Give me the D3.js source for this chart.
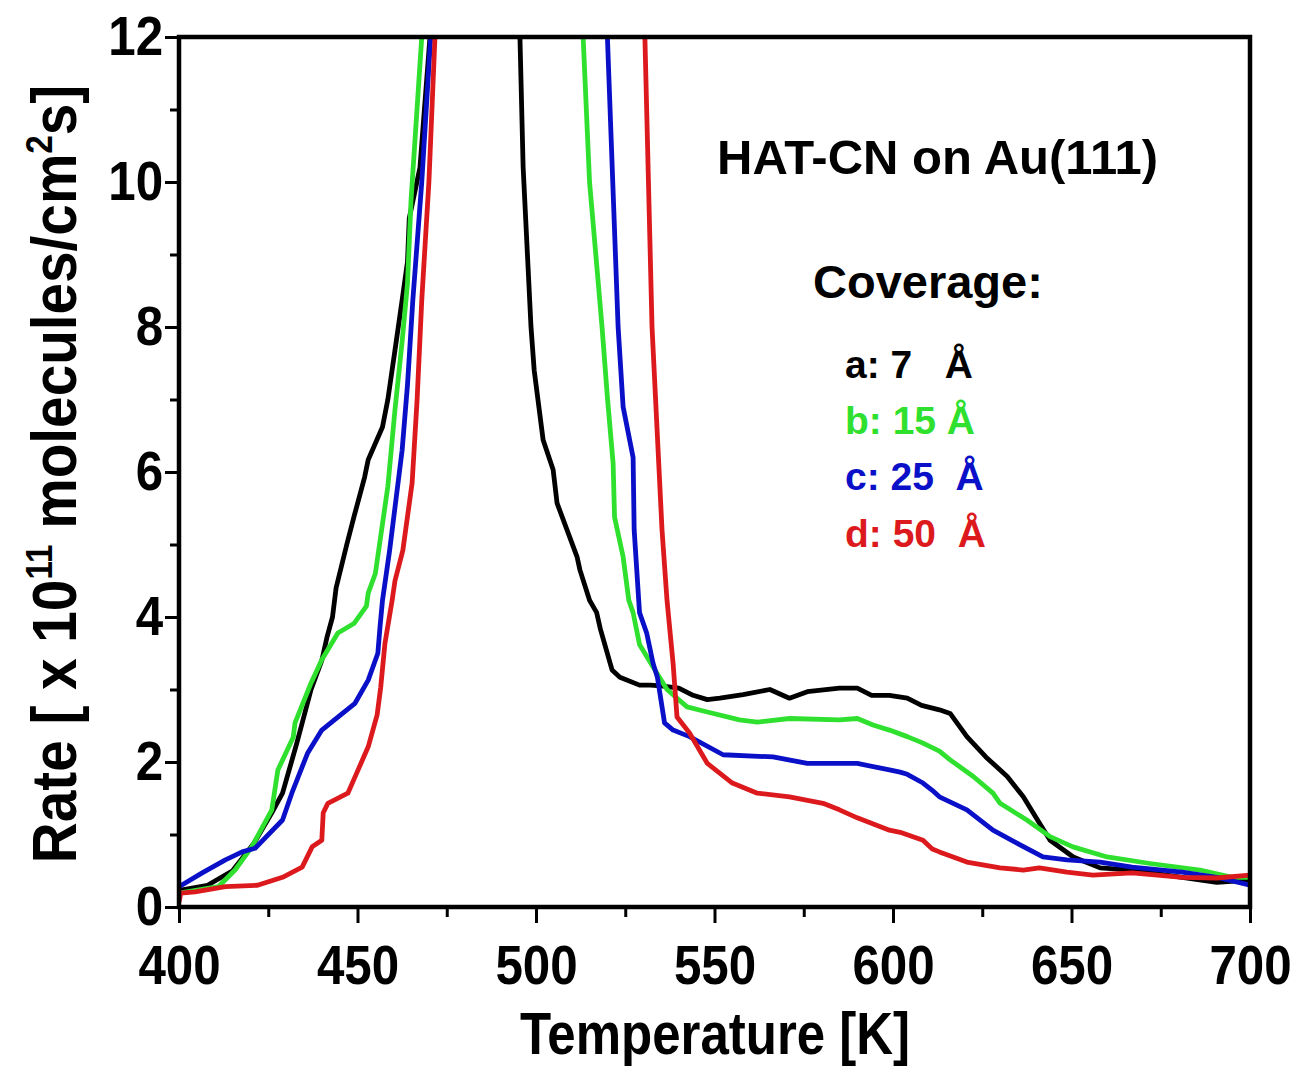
<!DOCTYPE html>
<html>
<head>
<meta charset="utf-8">
<script src="https://cdn.jsdelivr.net/npm/d3@7"></script>
<style>
body { margin: 0; background: #fff; }
svg { font-family: "Liberation Sans", Arial, sans-serif; font-weight: bold; }
</style>
</head>
<body>
<svg id="chart1" width="1295" height="1070"></svg>
<script>
// TPD traces, [temperature K, rate x1e11]; values above 12 are off-scale (clipped)
var curveA = [[400,0.23],[408,0.3],[415,0.5],[421,0.88],[426,1.3],[429,1.57],[433,2.26],[437,3.0],[440,3.4],[441.5,3.73],
	[443,4.0],[444,4.4],[447,5.0],[449,5.38],[452,5.93],[453,6.17],[457,6.62],[458.5,7.0],[460.5,7.68],[462.5,8.37],
	[464,8.9],[464.5,9.5],[467.5,10.2],[470.3,12],[483,14],[495.5,12],[496.4,10.2],[498.6,8.0],[499.5,7.4],[502,6.44],
	[504.8,6.03],[505.9,5.57],[511.5,4.83],[512.3,4.65],[515,4.23],[517,4.06],[518,3.84],[521.3,3.27],[523.5,3.17],
	[529,3.06],[532,3.06],[535,3.05],[540,3.02],[544,2.92],[548,2.86],[551.5,2.88],[558,2.93],[565.5,3.0],[571,2.88],
	[576,2.97],[585,3.02],[590,3.02],[594,2.92],[599,2.92],[604,2.88],[608,2.78],[613,2.72],[616,2.67],[620.7,2.35],
	[626,2.07],[632,1.8],[636.5,1.52],[641,1.16],[644,0.92],[650.5,0.69],[658,0.54],[667,0.51],[681,0.41],[690.7,0.34],[700,0.37]];
var curveB = [[400,0.19],[411,0.28],[415.7,0.51],[420.4,0.83],[426,1.34],[427.7,1.89],[432,2.34],[432.5,2.54],[437,3.09],
	[440,3.41],[444.5,3.78],[449,3.91],[452.5,4.15],[453,4.33],[455,4.6],[458.5,5.8],[460.5,6.86],[462.5,7.8],[464,8.6],
	[465,9.75],[468,12],[490,14],[513.2,12],[515,10],[518.5,8.0],[520,7.03],[521.6,6.12],[522,5.38],[524.4,4.83],[526,4.23],
	[527.2,4.06],[529,3.62],[532.8,3.31],[536.7,3.0],[542.3,2.76],[548,2.69],[557,2.58],[562,2.55],[571,2.6],[585,2.58],
	[590,2.6],[594.4,2.51],[599,2.44],[604,2.35],[608.4,2.26],[613,2.15],[616,2.03],[622.5,1.8],[628,1.57],[630,1.43],
	[637.5,1.2],[644,0.97],[650.4,0.83],[660,0.69],[672,0.6],[686,0.51],[695,0.41],[700,0.41]];
var curveC = [[400,0.28],[406.5,0.47],[413,0.65],[417.7,0.76],[421.3,0.81],[429,1.2],[431.6,1.57],[436,2.12],[440,2.44],
	[444.5,2.62],[449.3,2.81],[453,3.13],[455.7,3.5],[456.3,3.86],[457,4.23],[457.7,4.47],[459,4.92],[462.5,6.3],[464,7.2],
	[465.5,8.37],[468,10],[470.5,12],[495,14],[520,12],[523,8.0],[524.4,6.9],[527.2,6.2],[527.5,5.2],[529,4.06],[531,3.78],
	[532.8,3.36],[534,3.17],[536,2.54],[538.4,2.44],[543,2.35],[552.4,2.1],[566.4,2.07],[576,1.98],[590,1.98],[599,1.89],
	[602,1.86],[604,1.83],[608.4,1.71],[611,1.61],[613,1.52],[620.7,1.34],[628,1.06],[634.7,0.88],[642,0.69],[648.7,0.65],
	[658,0.62],[667,0.55],[681,0.48],[690.7,0.41],[700,0.3]];
var curveD = [[400,0.07],[400.5,0.19],[404.5,0.21],[413,0.28],[422,0.3],[429,0.41],[434.5,0.55],[437.3,0.83],[440,0.92],
	[440.4,1.3],[441.7,1.43],[447.3,1.57],[449.8,1.85],[453,2.21],[455.5,2.65],[456.5,3.03],[457.7,3.64],[459.7,4.23],
	[460.5,4.5],[462.7,4.92],[465.3,5.85],[466.7,7.0],[468,8.37],[470,10],[471.7,12],[500,14],[530.5,12],[532.5,8.0],
	[535.3,5.2],[536.7,4.23],[538.4,3.36],[539.5,2.62],[543,2.4],[548,1.98],[555,1.71],[562,1.57],[571,1.52],[580.4,1.43],
	[585,1.34],[590,1.23],[599,1.06],[602,1.03],[608.4,0.92],[611,0.8],[613,0.76],[620.7,0.62],[630,0.54],[636.5,0.51],
	[641,0.54],[648.7,0.48],[656,0.44],[667,0.47],[681,0.41],[690.7,0.4],[700,0.44]];

var seriesLabels = ["a: 7   Å", "b: 15 Å", "c: 25  Å", "d: 50  Å"];
var seriesColors = ["#000000", "#2fe02f", "#0a10c8", "#dc1a1e"];
var xTicks = [400, 450, 500, 550, 600, 650, 700];
var xMinor = [425, 475, 525, 575, 625, 675];
var yTicks = [0, 2, 4, 6, 8, 10, 12];
var yMinor = [1, 3, 5, 7, 9, 11];

var svg = d3.select('#chart1');
var margin = {left: 179, top: 37, right: 45, bottom: 163},
	width = 1295 - margin.left - margin.right,
	height = 1070 - margin.top - margin.bottom;

var x = d3.scaleLinear().domain([400, 700]).range([0, width]);
var y = d3.scaleLinear().domain([0, 12]).range([height, 0]);

var g = svg.append("g")
	.attr("transform", "translate(" + margin.left + "," + margin.top + ")");

g.append("clipPath").attr("id", "plotclip")
	.append("rect").attr("width", width).attr("height", height);

// curves
var line = d3.line()
	.x(function (d) { return x(d[0]); })
	.y(function (d) { return y(d[1]); });

var allCurves = [curveA, curveB, curveC, curveD];
g.append("g").attr("clip-path", "url(#plotclip)")
	.selectAll("path")
	.data(allCurves)
	.enter().append("path")
	.attr("d", line)
	.style("fill", "none")
	.style("stroke", function (d, i) { return seriesColors[i]; })
	.style("stroke-width", 4.8)
	.style("stroke-linejoin", "round");

// minor ticks
g.append("g")
	.attr("transform", "translate(0," + height + ")")
	.call(d3.axisBottom(x).tickValues(xMinor).tickSize(10).tickFormat(""))
	.call(function (s) { s.select(".domain").remove(); s.selectAll("line").style("stroke-width", 3); });
g.append("g")
	.call(d3.axisLeft(y).tickValues(yMinor).tickSize(9).tickFormat(""))
	.call(function (s) { s.select(".domain").remove(); s.selectAll("line").style("stroke-width", 3); });

// major ticks + labels
var xAxis = g.append("g")
	.attr("transform", "translate(0," + height + ")")
	.call(d3.axisBottom(x).tickValues(xTicks).tickSize(16).tickSizeOuter(0).tickPadding(21));
xAxis.selectAll("line").style("stroke-width", 3);
xAxis.selectAll("text")
	.style("font-size", "56px")
	.style("font-weight", "bold")
	.style("font-family", "'Liberation Sans', Arial, sans-serif")
	.attr("fill", "#000")
	.attr("transform", "scale(0.88,1)");

var yAxis = g.append("g")
	.call(d3.axisLeft(y).tickValues(yTicks).tickSize(14).tickSizeOuter(0).tickPadding(4));
yAxis.selectAll("line").style("stroke-width", 3);
yAxis.selectAll("text")
	.style("font-size", "56px")
	.style("font-weight", "bold")
	.style("font-family", "'Liberation Sans', Arial, sans-serif")
	.attr("fill", "#000")
	.attr("transform", "scale(0.88,1)");

xAxis.select(".domain").remove();
yAxis.select(".domain").remove();

// frame
g.append("rect")
	.attr("width", width).attr("height", height)
	.style("fill", "none").style("stroke", "#000").style("stroke-width", 4.5);

// axis titles
svg.append("text")
	.attr("transform", "translate(715,1054) scale(0.85,1)")
	.attr("text-anchor", "middle")
	.style("font-size", "60px")
	.text("Temperature [K]");

var yl = svg.append("text")
	.attr("transform", "translate(76,474) rotate(-90) scale(0.9,1)")
	.attr("text-anchor", "middle")
	.style("font-size", "63px");
yl.append("tspan").text("Rate [ x 10");
yl.append("tspan").attr("dy", -24).style("font-size", "37px").text("11");
yl.append("tspan").attr("dy", 24).text(" molecules/cm");
yl.append("tspan").attr("dy", -24).style("font-size", "37px").text("2");
yl.append("tspan").attr("dy", 24).text("s]");

// annotations
svg.append("text").attr("x", 717).attr("y", 174)
	.style("font-size", "49px").text("HAT-CN on Au(111)");
svg.append("text").attr("x", 813).attr("y", 298)
	.style("font-size", "47px").text("Coverage:");

var legendY = [378, 434, 490, 547];
svg.selectAll("text.legend")
	.data(seriesLabels)
	.enter().append("text")
	.attr("class", "legend")
	.attr("x", 845)
	.attr("y", function (d, i) { return legendY[i]; })
	.style("font-size", "39px")
	.style("white-space", "pre")
	.attr("fill", function (d, i) { return seriesColors[i]; })
	.text(function (d) { return d; });
</script>
</body>
</html>
